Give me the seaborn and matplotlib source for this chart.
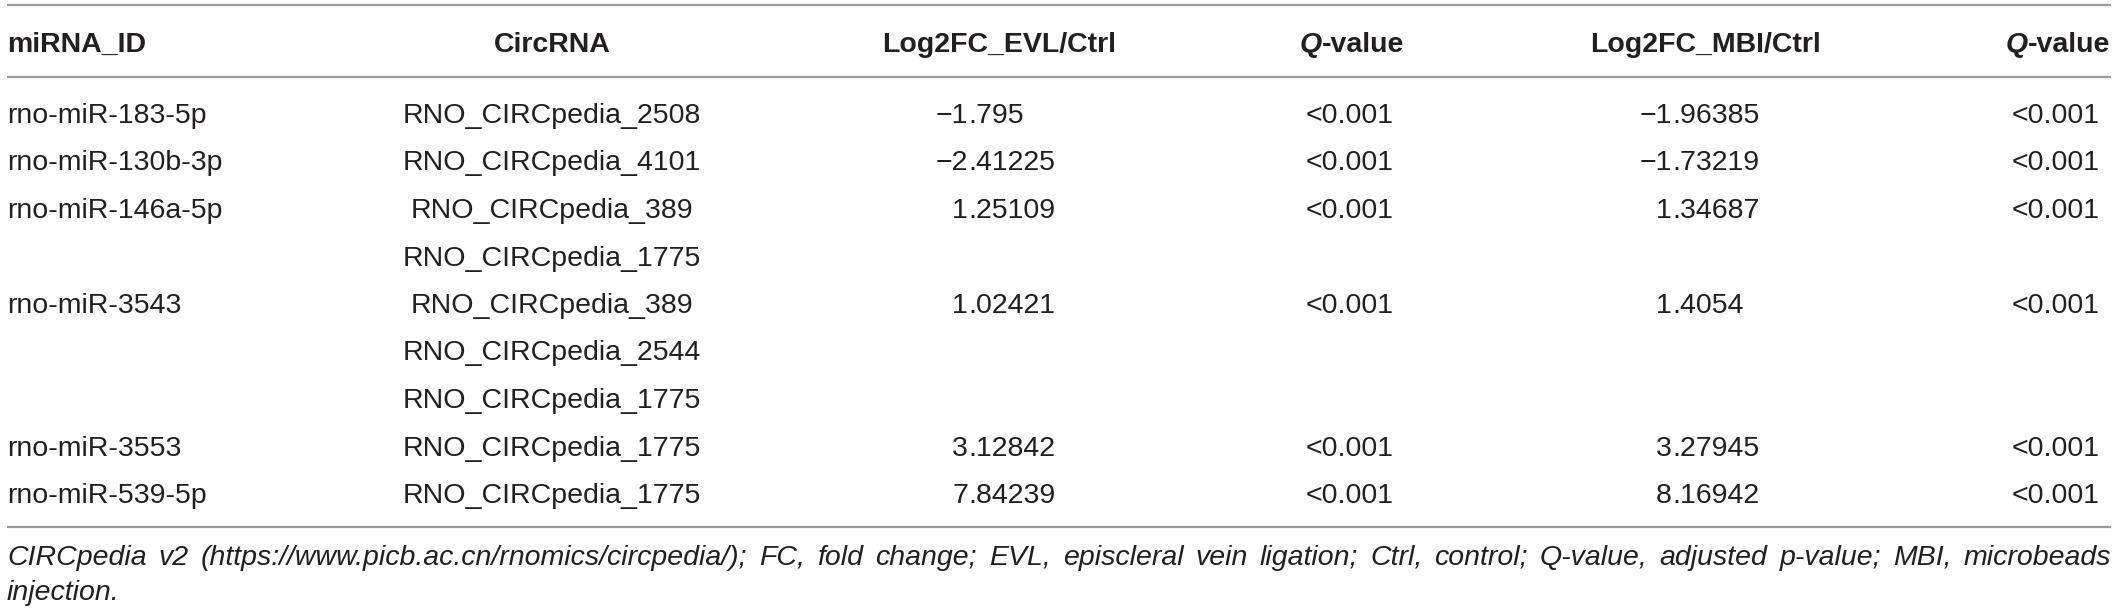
import matplotlib
matplotlib.use("Agg")
import matplotlib.pyplot as plt
import seaborn as sns

# table content
headers = ["miRNA_ID", "CircRNA", "Log2FC_EVL/Ctrl", "Q-value", "Log2FC_MBI/Ctrl", "Q-value"]
mirna_ids = ["rno-miR-183-5p", "rno-miR-130b-3p", "rno-miR-146a-5p", "", "rno-miR-3543", "", "",
             "rno-miR-3553", "rno-miR-539-5p"]
circrnas = ["RNO_CIRCpedia_2508", "RNO_CIRCpedia_4101", "RNO_CIRCpedia_389", "RNO_CIRCpedia_1775",
            "RNO_CIRCpedia_389", "RNO_CIRCpedia_2544", "RNO_CIRCpedia_1775", "RNO_CIRCpedia_1775",
            "RNO_CIRCpedia_1775"]
log2fc_evl = ["\u22121.795", "\u22122.41225", "1.25109", "", "1.02421", "", "", "3.12842", "7.84239"]
q_evl = ["<0.001", "<0.001", "<0.001", "", "<0.001", "", "", "<0.001", "<0.001"]
log2fc_mbi = ["\u22121.96385", "\u22121.73219", "1.34687", "", "1.4054", "", "", "3.27945", "8.16942"]
q_mbi = ["<0.001", "<0.001", "<0.001", "", "<0.001", "", "", "<0.001", "<0.001"]
caption = ("CIRCpedia v2 (https://www.picb.ac.cn/rnomics/circpedia/); FC, fold change; EVL, episcleral "
           "vein ligation; Ctrl, control; Q-value, adjusted p-value; MBI, microbeads injection.")

sns.set_style("white")
plt.rcParams["font.family"] = ["Liberation Sans", "DejaVu Sans"]

W, H = 2118, 612
fig = plt.figure(figsize=(W / 100, H / 100), dpi=100)
ax = fig.add_axes([0, 0, 1, 1])
ax.set_xlim(0, W)
ax.set_ylim(H, 0)
ax.axis("off")

fs = 20.5
txt_col = "#231f20"
line_col = "#9a9a9a"
left, right = 7, 2111

# horizontal rules
for yy in [5, 77, 527]:
    ax.plot([left, right], [yy, yy], color=line_col, lw=1.6, solid_capstyle="butt")

fig.canvas.draw()
renderer = fig.canvas.get_renderer()


def width_of(t):
    bb = t.get_window_extent(renderer)
    return bb.width


# header
hy = 52
ax.text(left, hy, headers[0], fontsize=fs, fontweight="bold", color=txt_col, va="baseline", ha="left")
ax.text(552, hy, headers[1], fontsize=fs, fontweight="bold", color=txt_col, va="baseline", ha="center")
ax.text(999, hy, headers[2], fontsize=fs, fontweight="bold", color=txt_col, va="baseline", ha="center")
ax.text(1705, hy, headers[4], fontsize=fs, fontweight="bold", color=txt_col, va="baseline", ha="center")
for cx in [1352, 2058]:
    tq = ax.text(0, hy, "Q", fontsize=fs, fontweight="bold", fontstyle="italic", color=txt_col, va="baseline")
    tv = ax.text(0, hy, headers[3][1:], fontsize=fs, fontweight="bold", color=txt_col, va="baseline")
    wq, wv = width_of(tq), width_of(tv)
    x0 = cx - (wq + wv) / 2
    tq.set_x(x0)
    tv.set_x(x0 + wq)


def put_num(xdec, y, s):
    if not s:
        return
    ip, fr = s.split(".")
    ax.text(xdec, y, ip, fontsize=fs, color=txt_col, va="baseline", ha="right")
    ax.text(xdec, y, "." + fr, fontsize=fs, color=txt_col, va="baseline", ha="left")


row_y0, row_dy = 113, 47.5
for i in range(len(circrnas)):
    by = row_y0 + i * row_dy + 10
    ax.text(left, by, mirna_ids[i], fontsize=fs, color=txt_col, va="baseline", ha="left")
    ax.text(552, by, circrnas[i], fontsize=fs, color=txt_col, va="baseline", ha="center")
    put_num(968, by, log2fc_evl[i])
    ax.text(1350, by, q_evl[i], fontsize=fs, color=txt_col, va="baseline", ha="center")
    put_num(1672, by, log2fc_mbi[i])
    ax.text(2056, by, q_mbi[i], fontsize=fs, color=txt_col, va="baseline", ha="center")

# caption, first line justified
words = caption.split(" ")
line1, line2 = words[:-1], words[-1:]
tw = [ax.text(0, 565, w, fontsize=fs, fontstyle="italic", color=txt_col, va="baseline", ha="left")
      for w in line1]
widths = [width_of(t) for t in tw]
gap = (right - left - sum(widths)) / (len(tw) - 1)
x = left
for t, w in zip(tw, widths):
    t.set_x(x)
    x += w + gap
ax.text(left, 600, " ".join(line2), fontsize=fs, fontstyle="italic", color=txt_col, va="baseline", ha="left")

fig.savefig("out.png", dpi=100)
